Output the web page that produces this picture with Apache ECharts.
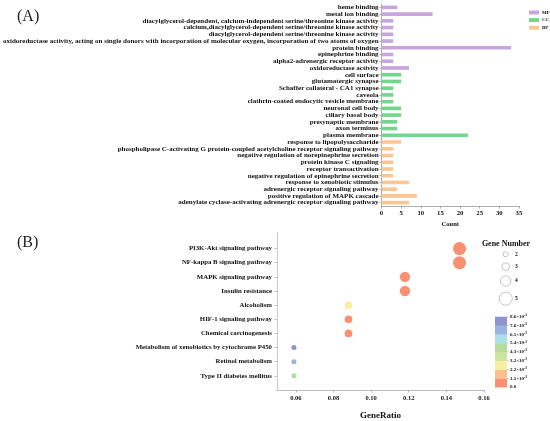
<!DOCTYPE html>
<html><head><meta charset="utf-8">
<script src="https://cdn.jsdelivr.net/npm/echarts@6/dist/echarts.min.js"></script>
<style>html,body{margin:0;padding:0;background:#fff}#c{width:550px;height:421px}</style>
</head><body><div id="c"></div>
<script>
// ---------- Panel A: GO enrichment ----------
const goTerms = [
  'heme binding',
  'metal ion binding',
  'diacylglycerol-dependent, calcium-independent serine/threonine kinase activity',
  'calcium,diacylglycerol-dependent serine/threonine kinase activity',
  'diacylglycerol-dependent serine/threonine kinase activity',
  'oxidoreductase activity, acting on single donors with incorporation of molecular oxygen, incorporation of two atoms of oxygen',
  'protein binding',
  'epinephrine binding',
  'alpha2-adrenergic receptor activity',
  'oxidoreductase activity',
  'cell surface',
  'glutamatergic synapse',
  'Schaffer collateral - CA1 synapse',
  'caveola',
  'clathrin-coated endocytic vesicle membrane',
  'neuronal cell body',
  'ciliary basal body',
  'presynaptic membrane',
  'axon terminus',
  'plasma membrane',
  'response to lipopolysaccharide',
  'phospholipase C-activating G protein-coupled acetylcholine receptor signaling pathway',
  'negative regulation of norepinephrine secretion',
  'protein kinase C signaling',
  'receptor transactivation',
  'negative regulation of epinephrine secretion',
  'response to xenobiotic stimulus',
  'adrenergic receptor signaling pathway',
  'positive regulation of MAPK cascade',
  'adenylate cyclase-activating adrenergic receptor signaling pathway'
];
const goGroups = [
  'MF','MF','MF','MF','MF','MF','MF','MF','MF','MF',
  'CC','CC','CC','CC','CC','CC','CC','CC','CC','CC',
  'BP','BP','BP','BP','BP','BP','BP','BP','BP','BP'
];
const goCounts = [4,13,3,3,3,3,33,3,3,7, 5,5,3,3,3,5,5,4,4,22, 5,3,3,3,3,3,7,4,9,7];
const groupNames = ['MF','CC','BP'];
const groupColors = ['#c9a5df','#72d68b','#fdc592'];

// ---------- Panel B: KEGG bubble ----------
const keggPathways = [
  'PI3K-Akt signaling pathway',
  'NF-kappa B signaling pathway',
  'MAPK signaling pathway',
  'Insulin resistance',
  'Alcoholism',
  'HIF-1 signaling pathway',
  'Chemical carcinogenesis',
  'Metabolism of xenobiotics by cytochrome P450',
  'Retinol metabolism',
  'Type II diabetes mellitus'
];
const keggGeneRatio = [0.147,0.147,0.118,0.118,0.088,0.088,0.088,0.059,0.059,0.059];
const keggCount = [5,5,4,4,3,3,3,2,2,2];
const keggPValue = [0.0003,0.0004,0.0006,0.0007,0.0027,0.0009,0.0010,0.0082,0.0071,0.0047];
const ratioTicks = [0.06,0.08,0.10,0.12,0.14,0.16];
const sizeLegendValues = [2,3,4,5];
const pBreaks = [0,0.0011,0.0022,0.0032,0.0043,0.0054,0.0065,0.0076,0.0086];
const pColors = ['#fa9072','#fdbf8e','#f6f1a2','#cce59f','#b4dd9d','#a9e3e8','#99b3e2','#8e93d0'];

const FONT = "'Liberation Serif','DejaVu Serif',serif";
const sizeOf = n => 2.7 * n - 0.4;

const chart = echarts.init(document.getElementById('c'), null, {renderer:'canvas'});

const barSeries = groupNames.map((g, gi) => ({
  type:'bar', name:g, stack:'go', xAxisIndex:0, yAxisIndex:0,
  barWidth:3.6, itemStyle:{color:groupColors[gi]},
  data: goCounts.map((v,i) => goGroups[i] === g ? v : '-')
}));

const nK = keggPathways.length;
const scatterData = keggPathways.map((name,i) => [keggGeneRatio[i], nK - i, keggCount[i], keggPValue[i], name]);

const pieces = pColors.map((c,i) => ({gte:pBreaks[i], lt:pBreaks[i+1], color:c}));
pieces[pieces.length-1].lte = pBreaks[pBreaks.length-1]; delete pieces[pieces.length-1].lt;

const cbTop = 316.7, cbItemH = 8.8, cbLeft = 495, cbW = 12;
const graphics = [
  {type:'text', left:17, top:9, style:{text:'(A)', font:"16px "+FONT, fill:'#222'}},
  {type:'text', left:17, top:235, style:{text:'(B)', font:"16px "+FONT, fill:'#222'}},
  {type:'text', x:506, y:244, style:{text:'Gene Number', font:"bold 8px "+FONT, fill:'#111', align:'center', verticalAlign:'middle'}}
];
const sizeLegendY = [254.3,266.7,281,298.7];
sizeLegendValues.forEach((n,k) => {
  graphics.push({type:'circle', shape:{cx:505.7, cy:sizeLegendY[k], r:sizeOf(n)/2}, style:{fill:'#fff', stroke:'#aaa', lineWidth:0.7}});
  graphics.push({type:'text', x:515, y:sizeLegendY[k], style:{text:String(n), font:"bold 5.5px "+FONT, fill:'#111', verticalAlign:'middle'}});
});
// colour bar (legend of the p-value colour scale)
pColors.forEach((c,i) => {
  const k = pColors.length - 1 - i;
  graphics.push({type:'rect', shape:{x:cbLeft, y:cbTop + k*cbItemH, width:cbW, height:cbItemH+0.3}, style:{fill:c}});
});
for (let k = 0; k < pBreaks.length; k++) {
  const v = pBreaks[pBreaks.length-1-k];
  graphics.push({type:'line', shape:{x1:cbLeft+cbW, y1:cbTop+k*cbItemH, x2:cbLeft+cbW+1.5, y2:cbTop+k*cbItemH}, style:{stroke:'#999', lineWidth:0.5}});
  graphics.push({type:'text', x:cbLeft+cbW+3, y:cbTop + k*cbItemH,
    style:{text: v === 0 ? '0.0' : (v*1000).toFixed(1) + '×10{s|-3}',
      rich:{s:{fontSize:3.5, fontWeight:'bold', fontFamily:FONT, verticalAlign:'top', padding:[0,0,3,0]}},
      font:"bold 5px "+FONT, fill:'#111', verticalAlign:'middle'}});
}

chart.setOption({
  animation:false,
  backgroundColor:'#fff',
  textStyle:{fontFamily:FONT},
  grid:[
    {left:381, width:138, top:4, height:202},
    {left:277, width:207, top:233, height:159.7}
  ],
  legend:{
    data:groupNames, orient:'vertical', left:524, top:5,
    itemWidth:10, itemHeight:4, itemGap:2.6, icon:'rect',
    textStyle:{fontSize:5, fontWeight:'bold', fontFamily:FONT, color:'#111', padding:[0,0,0,-2]},
    selectedMode:false
  },
  xAxis:[
    {type:'value', gridIndex:0, min:0, max:35, interval:5,
     name:'Count', nameLocation:'middle', nameGap:15,
     nameTextStyle:{fontSize:6.5, fontWeight:'bold', fontFamily:FONT, color:'#111'},
     axisLine:{show:true, lineStyle:{color:'#999', width:0.8}},
     axisTick:{show:true, length:2.5, lineStyle:{color:'#999', width:0.8}},
     axisLabel:{fontSize:6.8, fontWeight:'bold', fontFamily:FONT, color:'#111', margin:4},
     splitLine:{show:false}},
    {type:'value', gridIndex:1, min:0.05, max:0.16,
     name:'GeneRatio', nameLocation:'middle', nameGap:21,
     nameTextStyle:{fontSize:9, fontWeight:'bold', fontFamily:FONT, color:'#111'},
     axisLine:{show:true, lineStyle:{color:'#aaa', width:0.8}},
     axisTick:{show:true, length:2.5, customValues:ratioTicks, lineStyle:{color:'#aaa', width:0.8}},
     axisLabel:{customValues:ratioTicks, formatter:v => v.toFixed(2), fontSize:6.5, fontWeight:'bold', fontFamily:FONT, color:'#111', margin:5},
     splitLine:{show:false}}
  ],
  yAxis:[
    {type:'category', gridIndex:0, data:goTerms, inverse:true,
     axisLine:{show:true, lineStyle:{color:'#999', width:0.8}},
     axisTick:{show:true, length:2, alignWithLabel:true, lineStyle:{color:'#999', width:0.8}},
     axisLabel:{fontSize:7, fontWeight:'bold', fontFamily:FONT, color:'#111', margin:3, interval:0}},
    {type:'value', gridIndex:1, min:0, max:11.1,
     axisLine:{show:true, lineStyle:{color:'#bbb', width:0.8}},
     axisTick:{show:true, length:3, customValues:keggPathways.map((_,i)=>i+1), lineStyle:{color:'#bbb', width:0.8}},
     axisLabel:{customValues:keggPathways.map((_,i)=>i+1),
       formatter:v => keggPathways[nK - Math.round(v)],
       fontSize:6.8, fontWeight:'bold', fontFamily:FONT, color:'#111', margin:5},
     splitLine:{show:false}}
  ],
  visualMap:{
    type:'piecewise', show:false, seriesIndex:3, dimension:3, pieces:pieces
  },
  series:[
    ...barSeries,
    {type:'scatter', xAxisIndex:1, yAxisIndex:1, data:scatterData,
     symbolSize:val => sizeOf(val[2]), itemStyle:{opacity:1}}
  ],
  graphic:graphics
});
</script>
</body></html>
